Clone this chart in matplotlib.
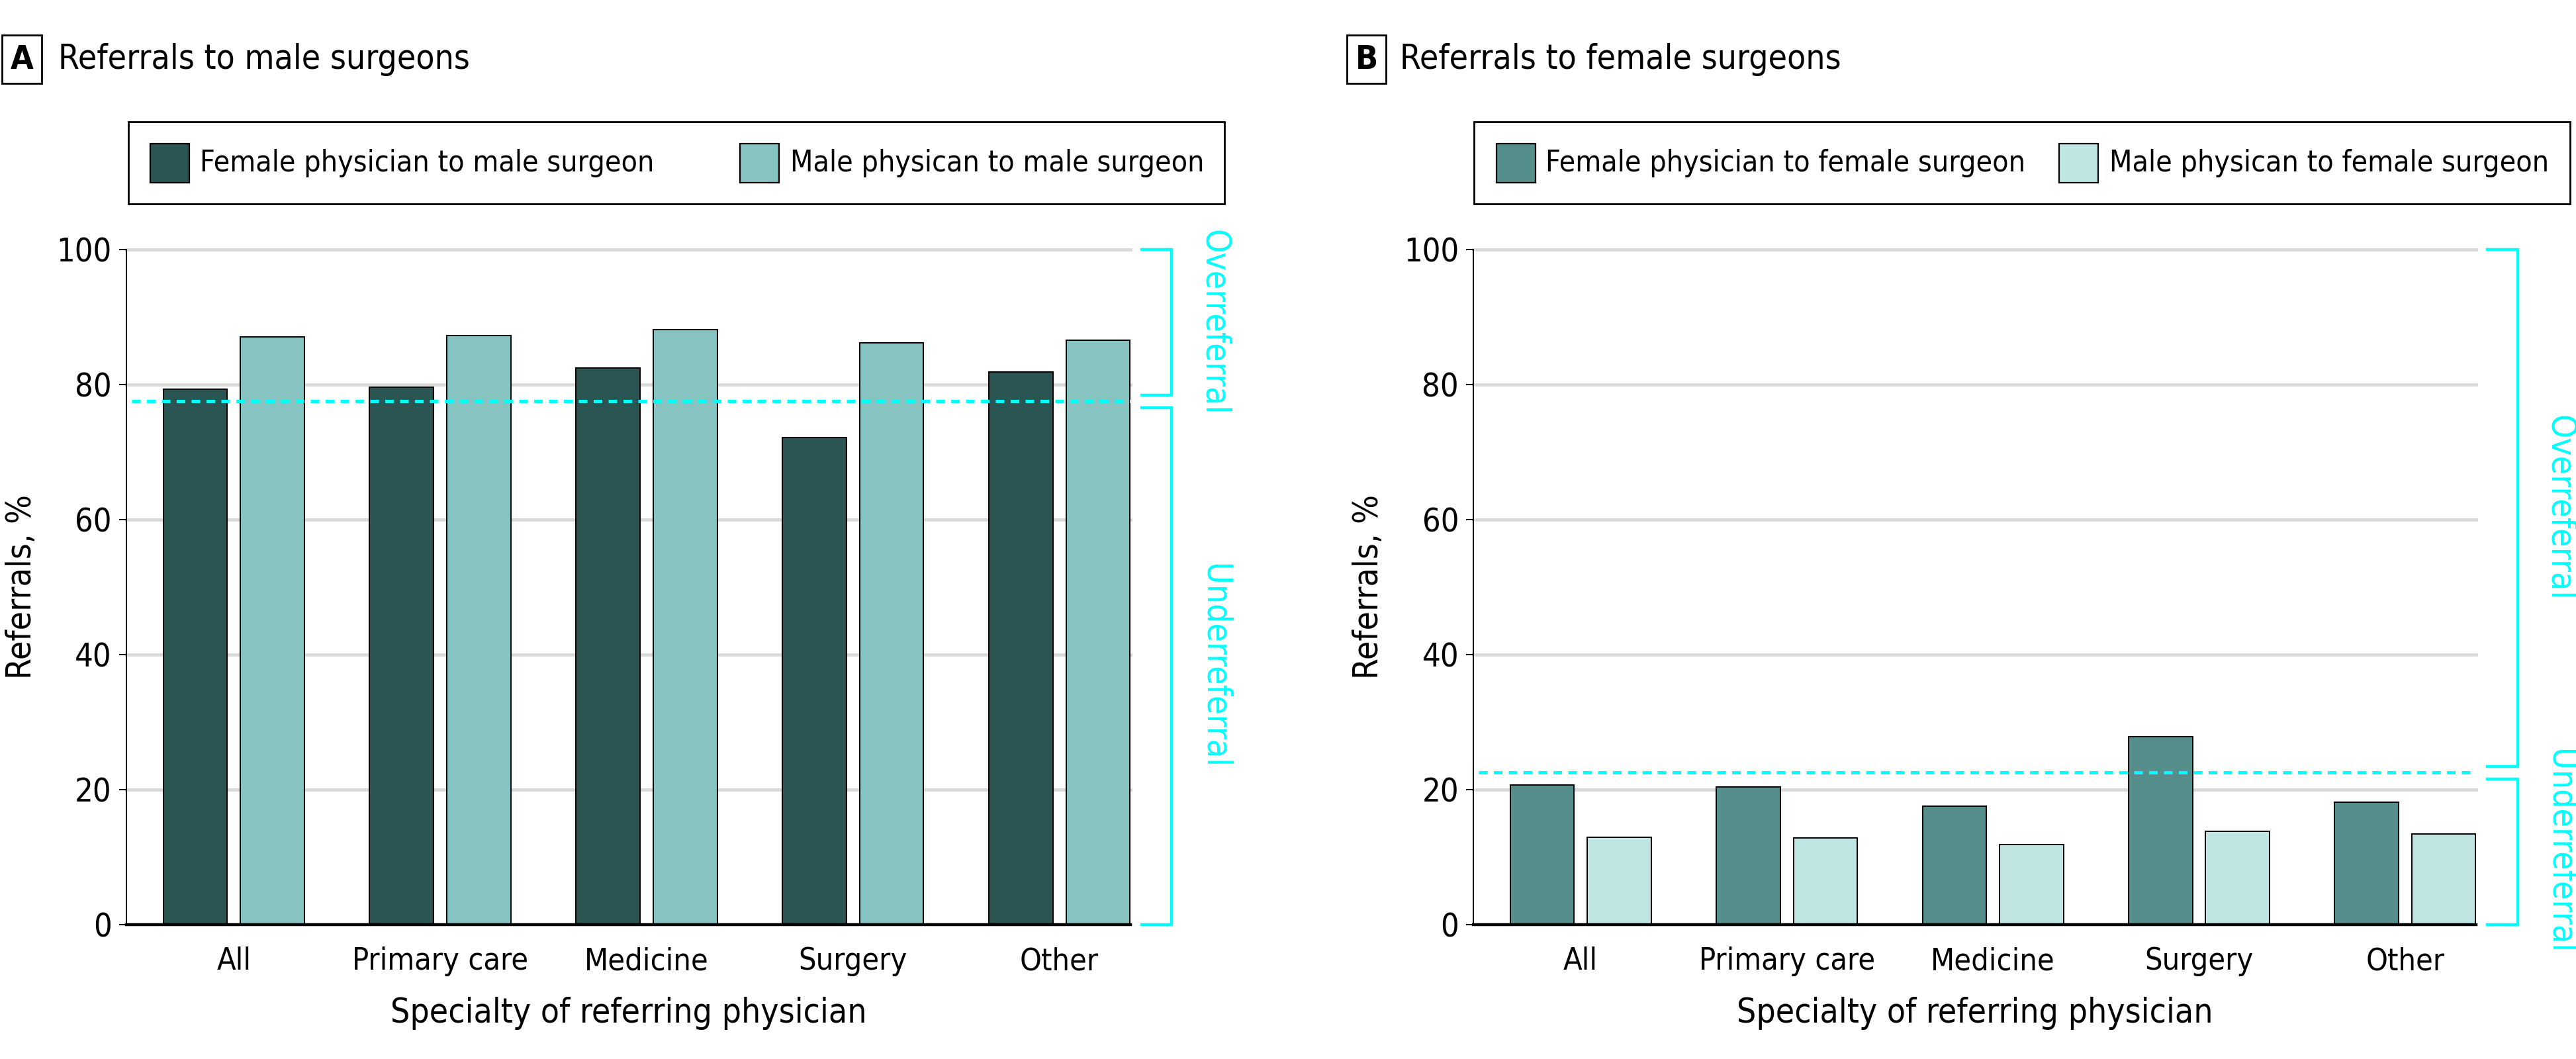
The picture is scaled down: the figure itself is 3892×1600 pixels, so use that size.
import matplotlib
matplotlib.use('Agg')
import matplotlib.pyplot as plt
from matplotlib import font_manager
from matplotlib.patches import Rectangle
import numpy as np

# Data
categories = ['All', 'Primary care', 'Medicine', 'Surgery', 'Other']
female_to_male = [79.3, 79.6, 82.4, 72.2, 81.9]
male_to_male = [87.1, 87.3, 88.1, 86.2, 86.6]
female_to_female = [20.7, 20.4, 17.5, 27.8, 18.1]
male_to_female = [12.9, 12.8, 11.9, 13.8, 13.4]
expected_male = 77.5
expected_female = 22.5

CYAN = '#00ffff'
W, H = 3892, 1600

names = {f.name for f in font_manager.fontManager.ttflist}
if 'Liberation Sans Narrow' in names:
    plt.rcParams['font.family'] = ['Liberation Sans Narrow', 'DejaVu Sans']
else:
    plt.rcParams['font.family'] = ['DejaVu Sans']
    plt.rcParams['font.stretch'] = 'condensed'


def legend_box(fig, box_px, entries):
    """Draw a framed legend; box_px = (x0, x1) in pixels, entries are
    (handle_x_px, text_x_px, color, label)."""
    x0, x1 = box_px
    top, bot = 184, 308
    fig.add_artist(Rectangle((x0 / W, 1 - bot / H), (x1 - x0) / W,
                             (bot - top) / H, transform=fig.transFigure,
                             fc='white', ec='black', lw=1.0))
    yc = 246.5
    for hx, tx, color, label in entries:
        fig.add_artist(Rectangle((hx / W, 1 - (yc + 29.5) / H), 59 / W,
                                 59 / H, transform=fig.transFigure,
                                 fc=color, ec='black', lw=0.8))
        fig.text(tx / W, 1 - yc / H, label, fontsize=16, ha='left',
                 va='center')


def panel(fig, rect, letter, title, left_vals, right_vals, labels, colors,
          expected, leg_px, leg_entries, letter_x, title_x):
    ax = fig.add_axes(rect)
    x = np.arange(len(categories))
    w = 0.31
    off = 0.187
    ax.bar(x - off, left_vals, w, color=colors[0], edgecolor='black',
           linewidth=0.7, zorder=3)
    ax.bar(x + off, right_vals, w, color=colors[1], edgecolor='black',
           linewidth=0.7, zorder=3)

    ax.set_xlim(-0.52, 4.345)
    ax.set_ylim(0, 100)
    for g in [20, 40, 60, 80, 100]:
        ax.axhline(g, color='#d9d9d9', lw=1.7, zorder=1, clip_on=False)
    ax.axhline(expected, color=CYAN, lw=1.8, ls=(0, (2.6, 1.9)), zorder=4,
               xmin=0.005)

    for s in ['top', 'right']:
        ax.spines[s].set_visible(False)
    ax.spines['left'].set_linewidth(0.7)
    ax.spines['bottom'].set_linewidth(1.6)
    ax.spines['bottom'].set_zorder(5)
    ax.set_yticks([0, 20, 40, 60, 80, 100])
    ax.tick_params(axis='y', labelsize=17.5, length=4, width=0.7, pad=4)
    ax.tick_params(axis='x', labelsize=16.8, length=0, pad=12)
    ax.set_xticks(x)
    ax.set_xticklabels(categories)
    ax.set_ylabel('Referrals, %', fontsize=18.5, labelpad=10)
    ax.set_xlabel('Specialty of referring physician', fontsize=18.5,
                  labelpad=11)

    # brackets for over/under referral
    tr = ax.get_yaxis_transform()
    gap = 0.9
    x0, x1, xt = 1.011, 1.041, 1.083
    for lo, hi, txt in [(expected + gap, 100, 'Overreferral'),
                        (0, expected - gap, 'Underreferral')]:
        ax.plot([x0, x1, x1, x0], [hi, hi, lo, lo], color=CYAN, lw=1.6,
                transform=tr, clip_on=False, solid_joinstyle='miter')
        ax.text(xt, (lo + hi) / 2, txt, transform=tr, rotation=-90,
                ha='center', va='center', color=CYAN, fontsize=18.5)

    legend_box(fig, leg_px,
               [(leg_entries[0][0], leg_entries[0][1], colors[0], labels[0]),
                (leg_entries[1][0], leg_entries[1][1], colors[1], labels[1])])

    fig.text(letter_x, 0.944, letter, fontsize=18, fontweight='bold',
             ha='center', va='center',
             bbox=dict(boxstyle='square,pad=0.25', fc='white', ec='black',
                       lw=1.0))
    fig.text(title_x, 0.944, title, fontsize=18.5, ha='left', va='center')
    return ax


fig = plt.figure(figsize=(W / 200, H / 200), dpi=200)

panel(fig, [0.0491, 0.1269, 0.3898, 0.6375], 'A', 'Referrals to male surgeons',
      female_to_male, male_to_male,
      ['Female physician to male surgeon', 'Male physican to male surgeon'],
      ['#2b5553', '#86c3c1'], expected_male,
      (194, 1850), [(227, 302), (1118, 1194)], 0.0085, 0.0225)

panel(fig, [0.5720, 0.1269, 0.3893, 0.6375], 'B',
      'Referrals to female surgeons',
      female_to_female, male_to_female,
      ['Female physician to female surgeon', 'Male physican to female surgeon'],
      ['#568e8b', '#c0e6e4'], expected_female,
      (2227, 3883), [(2261, 2335), (3111, 3187)], 0.5305, 0.5435)

fig.savefig('out.png', dpi=200)
